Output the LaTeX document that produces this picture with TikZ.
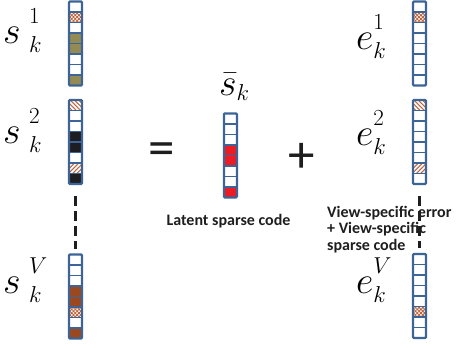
\documentclass[tikz,border=0pt]{standalone}
\usepackage{fix-cm}
\usepackage{fontspec}
\newfontfamily\labfont{Carlito}
\usetikzlibrary{calc,patterns.meta}
\DeclareMathSizes{38}{38}{23}{17}

\definecolor{vblue}{RGB}{60,100,150}
\definecolor{olivec}{RGB}{148,138,84}
\definecolor{darkc}{RGB}{30,30,34}
\definecolor{brownc}{RGB}{155,72,30}
\definecolor{redc}{RGB}{237,28,36}
\definecolor{hatchc}{RGB}{190,100,60}
\definecolor{inkc}{RGB}{30,30,30}

% raised superscript for the vector labels
\newcommand\hisup[1]{\raisebox{6pt}{$\scriptstyle #1$}}

% one code vector: 8 cells filled from a list, dividers, outline
\newcommand\vcells[2]{%
  \foreach \f [count=\i] in {#2} {
    \path[cell\f] ($(#1.north west)+(0,{(\i-1)*10.5})$) rectangle ($(#1.north west)+(13,{\i*10.5})$);
  }
  \foreach \i in {1,...,7}
    \draw[divline] ($(#1.north west)+(0,\i*10.5)$) -- ++(13,0);
  \draw[vecline] (#1.north west) rectangle (#1.south east);
}

\tikzset{
  vecbox/.style={minimum width=13pt, minimum height=84pt, inner sep=0pt, outer sep=0pt},
  divline/.style={draw=vblue, line width=1.8pt},
  vecline/.style={draw=vblue, line width=2.2pt, rounded corners=1pt},
  cellw/.style={fill=white},
  cello/.style={fill=olivec},
  celld/.style={fill=darkc},
  cellb/.style={fill=brownc},
  cellr/.style={fill=redc},
  cellx/.style={pattern={Hatch[angle=45,distance=2.6pt,line width=0.9pt]}, pattern color=hatchc},
  cellp/.style={pattern={Lines[angle=-45,distance=3pt,line width=1pt]}, pattern color=hatchc},
  cellq/.style={pattern={Lines[angle=45,distance=3pt,line width=1pt]}, pattern color=hatchc},
  mathlab/.style={inner sep=0pt, anchor=base west, font=\fontsize{38}{40}\selectfont},
  oplab/.style={inner sep=0pt, text=inkc, font=\labfont\fontsize{53}{53}\selectfont},
  caption/.style={inner sep=0pt, text=inkc, font=\labfont\bfseries\fontsize{16}{16.5}\selectfont},
  vdash/.style={draw=inkc, line width=3.5pt, dash pattern=on 10pt off 5pt},
}

\begin{document}
\begin{tikzpicture}[x=1pt,y=-1pt]
\useasboundingbox (0,0) rectangle (458,348);

% per-view sparse codes
\node[vecbox] (s1) at (75.5,43.5) {};
\node[vecbox] (s2) at (75.5,142) {};
\node[vecbox] (sV) at (75.5,296.5) {};
\vcells{s1}{w,x,w,o,o,w,w,o}
\vcells{s2}{p,w,w,d,d,w,q,d}
\vcells{sV}{w,w,w,b,b,x,w,b}

% latent code shared by all views
\node[vecbox] (sbar) at (230.4,155.4) {};
\vcells{sbar}{w,w,w,r,r,w,w,r}

% view-specific errors
\node[vecbox] (e1) at (419.5,43.5) {};
\node[vecbox] (e2) at (419.5,142) {};
\node[vecbox] (eV) at (419.5,296) {};
\vcells{e1}{w,x,w,w,w,w,w,w}
\vcells{e2}{p,w,w,w,w,w,q,w}
\vcells{eV}{w,w,w,w,w,x,w,w}

% labels
\node[mathlab] (ls1) at (3,43) {$s\mkern4mu{}_k^{\hisup{1}}$};
\node[mathlab] (ls2) at (3,143) {$s\mkern4mu{}_k^{\hisup{2}}$};
\node[mathlab] (lsV) at (3,293) {$s\mkern4mu{}_k^{\hisup{V}}$};
\node[mathlab] (lsbar) at (219,95) {$\bar{s}_k$};
\node[mathlab] (le1) at (356,49) {$e_k^{\hisup{1}}$};
\node[mathlab] (le2) at (356,145) {$e_k^{\hisup{2}}$};
\node[mathlab] (leV) at (356,293) {$e_k^{\hisup{V}}$};

\node[oplab] (eq) at (161.5,154) {=};
\node[oplab] (plus) at (301.5,158) {+};

\node[caption, anchor=base] (latcap) at (228.5,225.5) {Latent sparse code};
\node[caption, anchor=north west, align=left] (errcap) at (327,206)
  {View-specific error\\+ View-specific\\sparse code};

% elided views
\draw[vdash] ($(s2.south)+(0,12)$) -- ($(sV.north)+(0,-6)$);
\draw[vdash] ($(e2.south)+(0,12)$) -- ($(eV.north)+(0,-6)$);
\end{tikzpicture}
\end{document}
